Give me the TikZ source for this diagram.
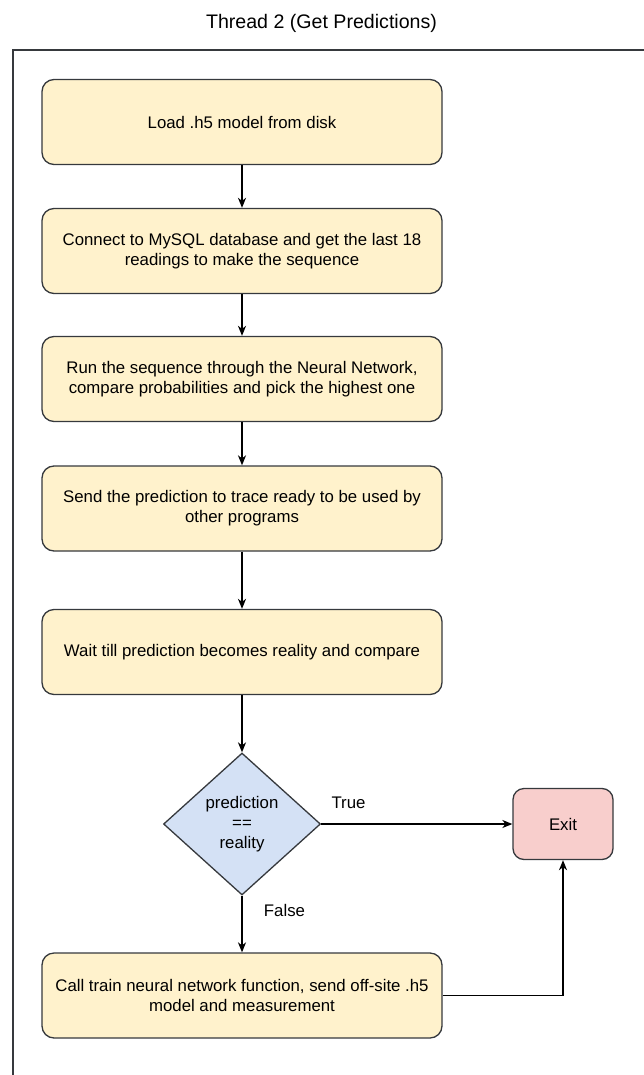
\documentclass[tikz,border=0pt]{standalone}
\usepackage{fontspec}
\setmainfont{Liberation Sans}
\usetikzlibrary{shapes.geometric,arrows.meta}
\definecolor{procfill}{HTML}{FFF2CC}
\definecolor{decfill}{HTML}{D4E1F5}
\definecolor{exitfill}{HTML}{F8CECC}
\definecolor{edge}{HTML}{36393D}
\begin{document}
\begin{tikzpicture}[x=1pt,y=-1pt,
  every node/.style={font=\fontsize{16.8}{20.2}\selectfont, text=black},
  procbox/.style={draw=edge, line width=1.3pt, fill=procfill, rounded corners=12pt,
    minimum width=400pt, minimum height=85pt, align=center, inner sep=0pt},
  decbox/.style={draw=edge, line width=1.3pt, fill=decfill, diamond,
    minimum width=157pt, minimum height=142pt, align=center, inner sep=0pt},
  exitbox/.style={draw=edge, line width=1.3pt, fill=exitfill, rounded corners=11pt,
    minimum width=100pt, minimum height=71pt, inner sep=0pt},
  flow/.style={draw=black, line width=1.3pt, -{Stealth[length=10pt,width=8pt,inset=3pt]}},
  lbl/.style={inner sep=0pt}]
\useasboundingbox (0,0) rectangle (643,1075);
% outer frame
\draw[line width=1.3pt, draw=edge] (13,1076) -- (13,50) -- (644,50);
\node[font=\fontsize{19.6}{23}\selectfont] (title) at (321.5,23) {Thread 2 (Get Predictions)};
% steps
\node[procbox] (load) at (242,122) {Load .h5 model from disk};
\node[procbox] (connect) at (242,251) {Connect to MySQL database and get the last 18\\readings to make the sequence};
\node[procbox] (run) at (242,379) {Run the sequence through the Neural Network,\\compare probabilities and pick the highest one};
\node[procbox] (send) at (242,508.5) {Send the prediction to trace ready to be used by\\other programs};
\node[procbox] (wait) at (242,652) {Wait till prediction becomes reality and compare};
\node[decbox] (check) at (242,824) {prediction\\==\\reality};
\node[exitbox] (exit) at (563,824) {Exit};
\node[procbox] (train) at (242,995.5) {Call train neural network function, send off-site .h5\\model and measurement};
% connectors
\draw[flow] (load) -- (connect);
\draw[flow] (connect) -- (run);
\draw[flow] (run) -- (send);
\draw[flow] (send) -- (wait);
\draw[flow] (wait.south) -- (check.north);
\draw[flow] (check.east) -- (exit.west);
\draw[flow] (check.south) -- (train.north);
\draw[flow] (train.east) -| (exit.south);
% branch labels
\node[lbl] (ltrue) at (348.5,803) {True};
\node[lbl] (lfalse) at (284.5,910) {False};
\end{tikzpicture}
\end{document}
